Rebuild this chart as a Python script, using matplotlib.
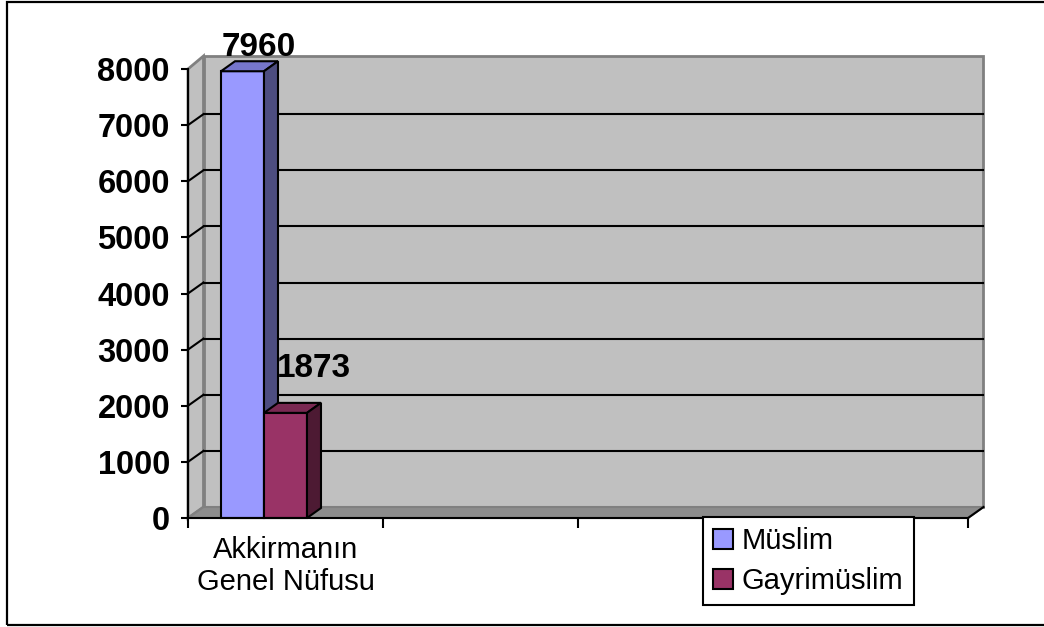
import numpy as np
import matplotlib
matplotlib.use("Agg")
import matplotlib.pyplot as plt
from matplotlib.patches import Rectangle, Polygon, Patch

# ---------------- data ----------------
categories = ["Akkirmanın\nGenel Nüfusu", "", "", ""]
series_names = ["Müslim", "Gayrimüslim"]
muslim = [7960, np.nan, np.nan, np.nan]
gayrimuslim = [1873, np.nan, np.nan, np.nan]
y_ticks = [0, 1000, 2000, 3000, 4000, 5000, 6000, 7000, 8000]

# ---------------- style ----------------
plt.rcParams['font.family'] = ['Liberation Sans', 'DejaVu Sans']
front_colors = ["#9999FF", "#993366"]
top_colors = ["#7676CC", "#7A2952"]
side_colors = ["#4D4D80", "#4D1A33"]
wall_color = "#C0C0C0"
wall_edge = "#808080"
floor_color = "#8C8C8C"

W, H = 1044, 627
fig = plt.figure(figsize=(W / 100, H / 100), dpi=100)
ax = fig.add_axes([188 / W, (H - 518) / H, 780 / W, 449 / H])
ymax = y_ticks[-1]
ncat = len(categories)
ax.set_xlim(0, ncat)
ax.set_ylim(0, ymax)
ax.patch.set_visible(False)

# depth offsets (data units)
wdx, wdy = 15.5 / 780 * ncat, 11 / 449 * ymax
bdx, bdy = 14 / 780 * ncat, 10 / 449 * ymax
wall_top = ymax + 13 / 449 * ymax

# walls and floor
back = Polygon([(wdx, wdy), (ncat + wdx, wdy), (ncat + wdx, wall_top), (wdx, wall_top)],
               closed=True, facecolor=wall_color, edgecolor=wall_edge, lw=2, clip_on=False, zorder=1)
left = Polygon([(0, 0), (wdx, wdy), (wdx, wall_top), (0, ymax)],
               closed=True, facecolor=wall_color, edgecolor=wall_edge, lw=2, clip_on=False, zorder=1.1)
floor = Polygon([(0, 0), (ncat, 0), (ncat + wdx, wdy), (wdx, wdy)],
                closed=True, facecolor=floor_color, edgecolor=wall_edge, lw=1.5, clip_on=False, zorder=1.2)
for p in (back, left, floor):
    ax.add_patch(p)

for v in y_ticks[1:-1]:
    ax.plot([wdx, ncat + wdx], [v + wdy, v + wdy], color='black', lw=1.5, zorder=1.5, clip_on=False)
    ax.plot([0, wdx], [v, v + wdy], color='black', lw=1.5, zorder=1.5, clip_on=False)
# right floor diagonal
ax.plot([ncat, ncat + wdx], [0, wdy], color='black', lw=1.5, zorder=1.6, clip_on=False)

# bars
bar_w = 0.2205
first_off = 0.1692
label_offsets = [(11.5, 11), (20.2, 26)]
for s, vals in enumerate([muslim, gayrimuslim]):
    for i, h in enumerate(vals):
        if np.isnan(h):
            continue
        x0 = i + first_off + s * bar_w
        z = 3 + s
        ax.add_patch(Rectangle((x0, 0), bar_w, h, facecolor=front_colors[s], edgecolor='black',
                               lw=1.5, zorder=z, clip_on=False))
        ax.add_patch(Polygon([(x0, h), (x0 + bar_w, h), (x0 + bar_w + bdx, h + bdy), (x0 + bdx, h + bdy)],
                             closed=True, facecolor=top_colors[s], edgecolor='black', lw=1.5,
                             zorder=z, clip_on=False))
        ax.add_patch(Polygon([(x0 + bar_w, 0), (x0 + bar_w + bdx, bdy), (x0 + bar_w + bdx, h + bdy),
                              (x0 + bar_w, h)],
                             closed=True, facecolor=side_colors[s], edgecolor='black', lw=1.5,
                             zorder=z, clip_on=False))
        ax.annotate(f"{int(h)}", xy=(x0 + bar_w / 2, h), xytext=label_offsets[s],
                    textcoords='offset points', ha='center', va='baseline',
                    fontsize=24, fontweight='bold', zorder=10, annotation_clip=False)

# axes
for sp in ['top', 'right']:
    ax.spines[sp].set_visible(False)
for sp in ['left', 'bottom']:
    ax.spines[sp].set_color('black')
    ax.spines[sp].set_linewidth(1.5)
    ax.spines[sp].set_zorder(6)

ax.set_yticks(y_ticks)
ax.set_yticklabels([str(v) for v in y_ticks])
ax.tick_params(axis='y', length=5, width=1.5, direction='out', labelsize=23.5, pad=8)
for t in ax.get_yticklabels():
    t.set_fontweight('bold')

ax.set_xticks(np.arange(ncat + 1))
ax.set_xticklabels([])
ax.tick_params(axis='x', which='major', length=7.2, width=1.5, direction='out')
ax.set_xticks(np.arange(ncat) + 0.5, minor=True)
ax.set_xticklabels(categories, minor=True, fontsize=21, linespacing=1.2)
ax.tick_params(axis='x', which='minor', length=0, pad=13)

# legend
handles = [Patch(facecolor=c, edgecolor='black', linewidth=1.5) for c in front_colors]
leg = fig.legend(handles, series_names, loc='upper left',
                 bbox_to_anchor=(703 / W, 1 - 517 / H), bbox_transform=fig.transFigure,
                 frameon=True, fancybox=False, edgecolor='black', framealpha=1,
                 fontsize=21, handlelength=0.68, handleheight=0.68, handletextpad=0.3,
                 borderpad=0.35, labelspacing=0.4, borderaxespad=0)
leg.get_frame().set_linewidth(1.5)

# outer border
fig.add_artist(Rectangle((7 / W, 2 / H), 1.2, 623 / H, transform=fig.transFigure,
                         fill=False, edgecolor='black', lw=1.6))

fig.savefig("out.png", dpi=100)
